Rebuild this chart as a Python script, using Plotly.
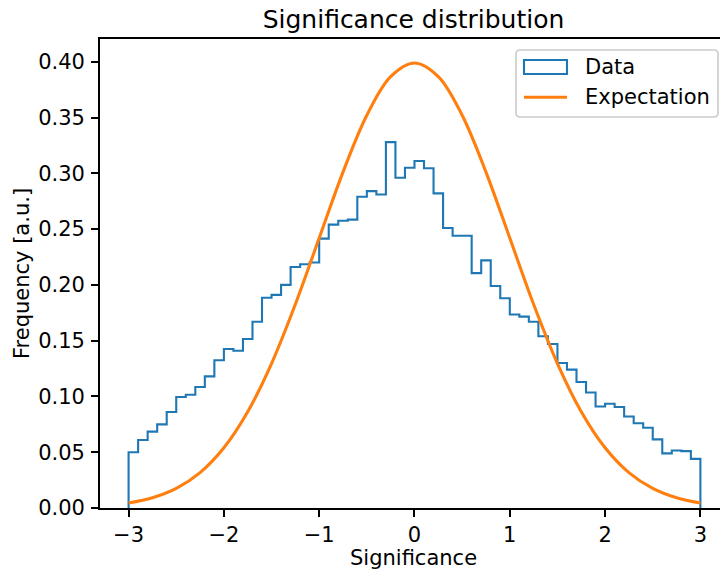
import plotly.graph_objects as go

# ---- data ----
bin_lo = -3.0
bin_hi = 3.0
n_bins = 60
hist_values = [
    0.050, 0.061, 0.0685, 0.075, 0.086, 0.0995, 0.1015, 0.1085, 0.118, 0.1325,
    0.1425, 0.141, 0.1515, 0.167, 0.1885, 0.191, 0.200, 0.216, 0.2185, 0.220,
    0.2415, 0.254, 0.2575, 0.2585, 0.279, 0.284, 0.281, 0.328, 0.296, 0.305,
    0.311, 0.3045, 0.282, 0.251, 0.244, 0.244, 0.2105, 0.222, 0.199, 0.188,
    0.1735, 0.1715, 0.167, 0.154, 0.147, 0.130, 0.124, 0.113, 0.1035, 0.091,
    0.0935, 0.0905, 0.082, 0.076, 0.072, 0.0615, 0.049, 0.0515, 0.051, 0.044,
]
exp_x = [-3.0, -2.75, -2.5, -2.25, -2.0, -1.75, -1.5, -1.25, -1.0, -0.75, -0.5, -0.25, 0.0,
         0.25, 0.5, 0.75, 1.0, 1.25, 1.5, 1.75, 2.0, 2.25, 2.5, 2.75, 3.0]
exp_y = [0.0044, 0.0091, 0.0175, 0.0317, 0.0540, 0.0863, 0.1295, 0.1826, 0.2420, 0.3011, 0.3521, 0.3867, 0.3989,
         0.3867, 0.3521, 0.3011, 0.2420, 0.1826, 0.1295, 0.0863, 0.0540, 0.0317, 0.0175, 0.0091, 0.0044]
x_ticks = [-3, -2, -1, 0, 1, 2, 3]
y_ticks = [0.00, 0.05, 0.10, 0.15, 0.20, 0.25, 0.30, 0.35, 0.40]

title = "Significance distribution"
x_label = "Significance"
y_label = "Frequency [a.u.]"
legend_names = ["Data", "Expectation"]

C0 = "#1f77b4"
C1 = "#ff7f0e"
FONT = "DejaVu Sans"

# bin edges and step path
width = (bin_hi - bin_lo) / n_bins
edges = [bin_lo + i * width for i in range(n_bins + 1)]
step_x = [edges[0]] + edges[:-1] + [edges[-1]]
step_y = [0.0] + hist_values + [0.0]

# ---- layout geometry ----
W, H = 720, 570
L, R, T, B = 100, 0, 39, 62
PW = W - L - R
PH = H - T - B
XMIN = -3.3
XSCALE = 95.3
XMAX = XMIN + PW / XSCALE
YMAX = 0.4204


def fx(px):
    return (px - L) / PW


def fy(py):
    return (H - B - py) / PH


fig = go.Figure()
fig.add_trace(go.Scatter(x=step_x, y=step_y, mode="lines", line=dict(color=C0, width=2.1, shape="hv"),
                         name=legend_names[0], showlegend=False))
fig.add_trace(go.Scatter(x=exp_x, y=exp_y, mode="lines", line=dict(color=C1, width=3.1, shape="spline", smoothing=1.0),
                         name=legend_names[1], showlegend=False))

axis_common = dict(
    showline=True, linecolor="black", linewidth=1.67,
    ticks="outside", ticklen=7, tickwidth=1.67, tickcolor="black",
    showgrid=False, zeroline=False,
    tickfont=dict(family=FONT, size=21, color="black"),
)
fig.update_xaxes(range=[XMIN, XMAX], tickvals=x_ticks, ticktext=[("\u2212" + str(abs(v))) if v < 0 else str(v) for v in x_ticks],
                 mirror=True, **axis_common)
fig.update_yaxes(range=[0, YMAX], tickvals=y_ticks, ticktext=["%.2f" % v for v in y_ticks],
                 ticklabelstandoff=2, **axis_common)

shapes = []
annotations = []

# legend frame (rounded rect)
lx0, lx1, ly0, ly1, rr = 516, 718, 50, 117, 4


def P(px, py):
    return "%f,%f" % (fx(px), fy(py))


path = ("M " + P(lx0 + rr, ly0) + " L " + P(lx1 - rr, ly0) + " Q " + P(lx1, ly0) + " " + P(lx1, ly0 + rr) +
        " L " + P(lx1, ly1 - rr) + " Q " + P(lx1, ly1) + " " + P(lx1 - rr, ly1) +
        " L " + P(lx0 + rr, ly1) + " Q " + P(lx0, ly1) + " " + P(lx0, ly1 - rr) +
        " L " + P(lx0, ly0 + rr) + " Q " + P(lx0, ly0) + " " + P(lx0 + rr, ly0) + " Z")
shapes.append(dict(type="path", xref="paper", yref="paper", path=path,
                   line=dict(color="#cccccc", width=1.67), fillcolor="rgba(255,255,255,0.8)", layer="above"))
# data patch
shapes.append(dict(type="rect", xref="paper", yref="paper", x0=fx(524), x1=fx(567), y0=fy(60), y1=fy(74),
                   line=dict(color=C0, width=2.1), fillcolor="rgba(0,0,0,0)", layer="above"))
# expectation line
shapes.append(dict(type="line", xref="paper", yref="paper", x0=fx(524), x1=fx(567), y0=fy(97.3), y1=fy(97.3),
                   line=dict(color=C1, width=3.1), layer="above"))
annotations.append(dict(text=legend_names[0], xref="paper", yref="paper", x=fx(583), y=fy(67), xanchor="left",
                        yanchor="middle", showarrow=False, font=dict(family=FONT, size=21, color="black")))
annotations.append(dict(text=legend_names[1], xref="paper", yref="paper", x=fx(583), y=fy(97.3), xanchor="left",
                        yanchor="middle", showarrow=False, font=dict(family=FONT, size=21, color="black")))
# axis titles
annotations.append(dict(text=x_label, xref="paper", yref="paper", x=fx(413.7), y=fy(558), xanchor="center",
                        yanchor="middle", showarrow=False, borderpad=0, font=dict(family=FONT, size=21, color="black")))
annotations.append(dict(text=y_label, xref="paper", yref="paper", x=fx(22), y=fy(274), xanchor="center",
                        yanchor="middle", textangle=-90, showarrow=False, font=dict(family=FONT, size=21, color="black")))

fig.update_layout(
    width=W, height=H,
    margin=dict(l=L, r=R, t=T, b=B, pad=0),
    paper_bgcolor="white", plot_bgcolor="white",
    showlegend=False,
    title=dict(text=title, x=413.5 / W, xanchor="center", xref="container", y=1 - 19.5 / H, yref="container",
               yanchor="middle", font=dict(family=FONT, size=25, color="black")),
    shapes=shapes, annotations=annotations,
)

fig.write_html("out.html")
